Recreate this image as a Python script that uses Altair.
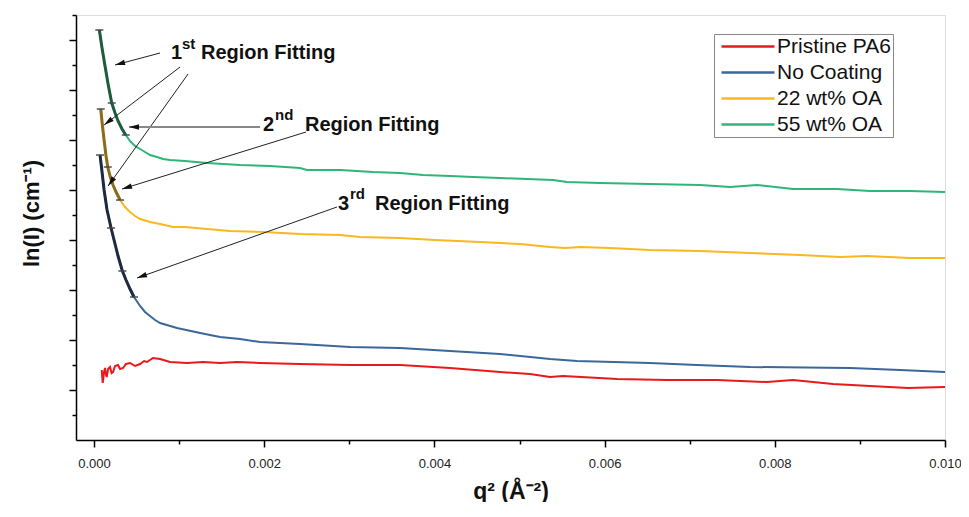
import math
import altair as alt
import pandas as pd

# ---------------- data (q^2 in A^-2, ln(I) in arbitrary offset units) ----------------
SERIES = ["Pristine PA6", "No Coating", "22 wt% OA", "55 wt% OA"]
COLORS = ["#e8191c", "#3b679a", "#f9b81e", "#2fb577"]

pa6_q = [0.0000905, 0.000102, 0.000118, 0.000129, 0.000141, 0.000149, 0.000165, 0.000188,
         0.000206, 0.000223, 0.000247, 0.000282, 0.000306, 0.000341, 0.000376, 0.000423,
         0.000482, 0.000541, 0.000588, 0.000623, 0.000693, 0.000776, 0.000893, 0.001093,
         0.001281, 0.001481, 0.001680, 0.001951, 0.002421, 0.003008, 0.003596, 0.004183,
         0.004771, 0.005123, 0.005358, 0.005511, 0.006146, 0.006733, 0.007321, 0.007908,
         0.008214, 0.008684, 0.009119, 0.009565, 0.010000]
pa6_y = [1.40, 1.14, 1.36, 1.44, 1.30, 1.26, 1.42, 1.46, 1.34, 1.36, 1.48, 1.50, 1.42, 1.44,
         1.52, 1.54, 1.48, 1.52, 1.58, 1.56, 1.64, 1.62, 1.56, 1.54, 1.56, 1.54, 1.56, 1.54,
         1.52, 1.50, 1.50, 1.44, 1.36, 1.32, 1.26, 1.28, 1.22, 1.20, 1.20, 1.16, 1.20, 1.12,
         1.08, 1.04, 1.06]

noc_q = [0.0000705, 0.0000940, 0.000118, 0.000153, 0.000200, 0.000235, 0.000282, 0.000333,
         0.000376, 0.000423, 0.000470, 0.000541, 0.000599, 0.000658, 0.000717, 0.000776,
         0.000975, 0.001246, 0.001481, 0.001716, 0.001951, 0.002186, 0.002421, 0.003008,
         0.003596, 0.004183, 0.004771, 0.005358, 0.005676, 0.006533, 0.007086, 0.007709,
         0.008884, 0.009471, 0.010000]
noc_y = [5.70, 5.36, 5.00, 4.60, 4.24, 4.00, 3.68, 3.38, 3.20, 3.02, 2.86, 2.68, 2.56, 2.48,
         2.40, 2.34, 2.24, 2.14, 2.06, 2.02, 1.96, 1.94, 1.92, 1.86, 1.84, 1.78, 1.72, 1.62,
         1.58, 1.54, 1.50, 1.46, 1.44, 1.40, 1.36]

oa22_q = [0.0000787, 0.0000940, 0.000118, 0.000141, 0.000161, 0.000188, 0.000223, 0.000259,
          0.000306, 0.000364, 0.000423, 0.000482, 0.000541, 0.000658, 0.000776, 0.000928,
          0.001069, 0.001328, 0.001598, 0.001998, 0.002421, 0.002891, 0.003126, 0.003596,
          0.004007, 0.004536, 0.005006, 0.005358, 0.005535, 0.005711, 0.006063, 0.006533,
          0.007121, 0.007709, 0.008296, 0.008766, 0.009083, 0.009589, 0.010000]
oa22_y = [6.62, 6.36, 6.00, 5.68, 5.46, 5.28, 5.10, 4.96, 4.80, 4.66, 4.56, 4.48, 4.42, 4.36,
          4.32, 4.26, 4.26, 4.22, 4.18, 4.16, 4.12, 4.10, 4.06, 4.04, 4.00, 3.96, 3.92, 3.86,
          3.84, 3.86, 3.84, 3.80, 3.78, 3.74, 3.70, 3.66, 3.68, 3.64, 3.64]

oa55_q = [0.0000623, 0.0000940, 0.000129, 0.000165, 0.000208, 0.000247, 0.000282, 0.000329,
          0.000373, 0.000423, 0.000482, 0.000541, 0.000599, 0.000658, 0.000740, 0.000811,
          0.000893, 0.001069, 0.001328, 0.001716, 0.002068, 0.002421, 0.002503, 0.002891,
          0.003278, 0.003596, 0.003866, 0.004183, 0.004454, 0.004771, 0.005394, 0.005558,
          0.005946, 0.006533, 0.007121, 0.007474, 0.007791, 0.008214, 0.008731, 0.009119,
          0.009589, 0.010000]
oa55_y = [8.20, 7.84, 7.48, 7.12, 6.74, 6.54, 6.38, 6.22, 6.10, 5.98, 5.88, 5.82, 5.76, 5.70,
          5.66, 5.62, 5.60, 5.58, 5.54, 5.50, 5.48, 5.44, 5.40, 5.40, 5.36, 5.34, 5.30, 5.28,
          5.26, 5.24, 5.20, 5.16, 5.14, 5.12, 5.10, 5.06, 5.10, 5.02, 5.02, 4.98, 4.98, 4.96]

# number of leading points covered by each fit, and fit-boundary markers
fit_n_55, fit_n_22, fit_n_noc = 9, 9, 11
mark_55_q = [0.0000623, 0.000208, 0.000373]
mark_55_y = [8.20, 6.74, 6.10]
mark_22_q = [0.0000787, 0.000161, 0.000306]
mark_22_y = [6.62, 5.46, 4.80]
mark_noc_q = [0.0000705, 0.000200, 0.000333, 0.000470]
mark_noc_y = [5.70, 4.24, 3.38, 2.86]

# annotation arrows: tail (q, y) -> tip (q, y)
arr_tail_q = [0.000776, 0.001011, 0.001105, 0.002491, 0.002855]
arr_tail_y = [7.74, 7.46, 7.32, 6.16, 4.66]
arr_tip_q = [0.000247, 0.000118, 0.000165, 0.000329, 0.000505]
arr_tip_y = [7.50, 6.30, 5.08, 5.02, 3.24]
grey_tail_q, grey_tail_y = [0.001951], [6.26]
grey_tip_q, grey_tip_y = [0.000411], [6.26]

# annotation texts
big_text = ["1", "Region Fitting", "2", "Region Fitting", "3", "Region Fitting"]
big_q = [0.000905, 0.001257, 0.001986, 0.002479, 0.002867, 0.003302]
big_y = [7.62, 7.62, 6.18, 6.18, 4.60, 4.60]
sup_text = ["st", "nd", "rd"]
sup_q = [0.001034, 0.002127, 0.003008]
sup_y = [7.82, 6.40, 4.82]

X_DOMAIN = [-0.000212, 0.010]
Y_DOMAIN = [0, 8.5]
W, H = 869, 425

FONT = "Liberation Sans"

# ---------------- tables ----------------
rows = []
for name, qs, ys in zip(SERIES, [pa6_q, noc_q, oa22_q, oa55_q], [pa6_y, noc_y, oa22_y, oa55_y]):
    for i, (q, y) in enumerate(zip(qs, ys)):
        rows.append({"q": q, "y": y, "series": name, "order": i})
df = pd.DataFrame(rows)

fit55 = pd.DataFrame({"q": oa55_q[:fit_n_55], "y": oa55_y[:fit_n_55]})
fit22 = pd.DataFrame({"q": oa22_q[:fit_n_22], "y": oa22_y[:fit_n_22]})
fitnoc = pd.DataFrame({"q": noc_q[:fit_n_noc], "y": noc_y[:fit_n_noc]})
marks = pd.DataFrame({"q": mark_55_q + mark_22_q + mark_noc_q,
                      "y": mark_55_y + mark_22_y + mark_noc_y})

xs = W / (X_DOMAIN[1] - X_DOMAIN[0])
ys_ = H / (Y_DOMAIN[1] - Y_DOMAIN[0])


def arrow_df(tq, ty, hq, hy):
    ang = []
    for a, b, c, d in zip(tq, ty, hq, hy):
        dx = (c - a) * xs
        up = (d - b) * ys_
        ang.append(math.degrees(math.atan2(dx, up)) % 360)
    return pd.DataFrame({"q": tq, "y": ty, "q2": hq, "y2": hy, "ang": ang})


arrows = arrow_df(arr_tail_q, arr_tail_y, arr_tip_q, arr_tip_y)
garrow = arrow_df(grey_tail_q, grey_tail_y, grey_tip_q, grey_tip_y)
tbig = pd.DataFrame({"q": big_q, "y": big_y, "t": big_text})
tsup = pd.DataFrame({"q": sup_q, "y": sup_y, "t": sup_text})

# ---------------- axes ----------------
x_axis = alt.Axis(
    title="q² (Å⁻²)",
    values=[i / 1000 for i in range(11)],
    labelExpr="round(datum.value*1000) % 2 === 0 ? format(datum.value, '.3f') : ''",
    labelOverlap=False, labelFlush=False,
    tickSize={"condition": {"test": "round(datum.value*1000) % 2 === 0", "value": 7}, "value": 4},
    grid=False, domainColor="#000", domainWidth=1.5, tickColor="#000", tickWidth=1.5,
    labelFont=FONT, labelFontSize=13, labelColor="#222", labelPadding=10,
    titleFont=FONT, titleFontSize=23, titleFontWeight="bold", titleColor="#111",
    titleY=58, titleBaseline="alphabetic",
)
y_axis = alt.Axis(
    title="ln(I) (cm⁻¹)",
    values=[i * 0.5 for i in range(1, 18)],
    labels=False,
    tickSize={"condition": {"test": "datum.value % 1 === 0", "value": 7}, "value": 4},
    grid=False, domainColor="#000", domainWidth=1.5, tickColor="#000", tickWidth=1.5,
    titleFont=FONT, titleFontSize=22, titleFontWeight="bold", titleColor="#111",
    titleX=-38, titleY=198, titleBaseline="alphabetic",
)
xscale = alt.Scale(domain=X_DOMAIN, nice=False, zero=False)
yscale = alt.Scale(domain=Y_DOMAIN, nice=False, zero=False)


def X(f="q"):
    return alt.X(f"{f}:Q", scale=xscale, axis=x_axis)


def Y(f="y"):
    return alt.Y(f"{f}:Q", scale=yscale, axis=y_axis)


lines = alt.Chart(df).mark_line(strokeWidth=2, interpolate="linear").encode(
    x=X(), y=Y(),
    color=alt.Color("series:N", scale=alt.Scale(domain=SERIES, range=COLORS),
                    legend=alt.Legend(
                        title=None, orient="none", legendX=638, legendY=19,
                        symbolType="M-1,0L9.6,0", symbolSize=100, symbolStrokeWidth=2.5,
                        labelFont=FONT, labelFontSize=21, labelColor="#111",
                        strokeColor="#888", fillColor="white", padding=2,
                        rowPadding=4, labelOffset=40, labelLimit=300)),
    order="order:Q",
)

fit_layers = []
for fdf, col in [(fit55, "#1f5c3c"), (fit22, "#8a6c1a"), (fitnoc, "#1d2a42")]:
    fit_layers.append(alt.Chart(fdf).mark_line(strokeWidth=3, color=col).encode(x=X(), y=Y()))

ticks = alt.Chart(marks).mark_tick(orient="horizontal", size=8, thickness=2, color="#444").encode(
    x=X(), y=Y())

rules = alt.Chart(arrows).mark_rule(color="#222", strokeWidth=1).encode(
    x=X(), y=Y(), x2="q2:Q", y2="y2:Q")
heads = alt.Chart(arrows).mark_point(shape="M0,0L-0.55,2L0.55,2Z", filled=True, size=100,
                                     color="#111", opacity=1).encode(
    x=X("q2"), y=Y("y2"), angle=alt.Angle("ang:Q", scale=None))
grules = alt.Chart(garrow).mark_rule(color="#888", strokeWidth=1.8).encode(
    x=X(), y=Y(), x2="q2:Q", y2="y2:Q")
gheads = alt.Chart(garrow).mark_point(shape="M0,0L-0.55,2L0.55,2Z", filled=True, size=100,
                                      color="#111", opacity=1).encode(
    x=X("q2"), y=Y("y2"), angle=alt.Angle("ang:Q", scale=None))

tb = alt.Chart(tbig).mark_text(align="left", baseline="alphabetic", font=FONT, fontSize=20,
                               fontWeight="bold", color="#111").encode(x=X(), y=Y(), text="t:N")
ts = alt.Chart(tsup).mark_text(align="left", baseline="alphabetic", font=FONT, fontSize=15,
                               fontWeight="bold", color="#111").encode(x=X(), y=Y(), text="t:N")

chart = alt.layer(lines, *fit_layers, ticks, rules, heads, grules, gheads, tb, ts).properties(
    width=W, height=H,
    autosize=alt.AutoSizeParams(type="none"),
    padding={"left": 68, "top": 7, "right": 16, "bottom": 62},
).configure_view(stroke=None).configure(background="white")

chart.save("out.html", embed_options={"renderer": "svg", "actions": False})
